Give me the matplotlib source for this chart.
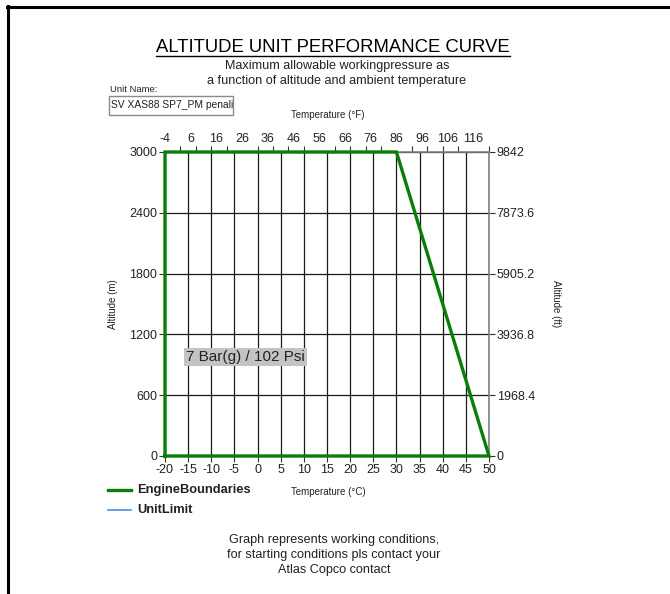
import matplotlib
matplotlib.use("Agg")
import matplotlib.pyplot as plt
from matplotlib.lines import Line2D
from matplotlib.patches import Rectangle
import numpy as np

plt.rcParams['font.family'] = ['Liberation Sans', 'DejaVu Sans']
plt.rcParams['axes.unicode_minus'] = False

# Engine boundary envelope (temperature in degC, altitude in m)
boundary_temp_c = [-20, -20, 30, 50, -20]
boundary_alt_m = [0, 3000, 3000, 0, 0]

temp_ticks_c = [-20, -15, -10, -5, 0, 5, 10, 15, 20, 25, 30, 35, 40, 45, 50]
alt_ticks_m = [0, 600, 1200, 1800, 2400, 3000]
temp_ticks_f = [-4, 6, 16, 26, 36, 46, 56, 66, 76, 86, 96, 106, 116]
alt_ticks_ft = [0, 1968.4, 3936.8, 5905.2, 7873.6, 9842]
alt_tick_labels_ft = ["0", "1968.4", "3936.8", "5905.2", "7873.6", "9842"]

unit_name = "SV XAS88 SP7_PM penali"
pressure_label = "7 Bar(g) / 102 Psi"

W, H = 670, 594
fig = plt.figure(figsize=(W / 100, H / 100), dpi=100)
fig.patch.set_facecolor("white")

def fx(px):
    return px / W

def fy(py):
    return 1 - py / H

TXT = "#222222"
TICK_FS = 9

# page frame (top and left edges)
fig.add_artist(Line2D([fx(7), fx(670)], [fy(7), fy(7)], color="black", lw=2.2))
fig.add_artist(Line2D([fx(7.5), fx(7.5)], [fy(6), fy(594)], color="black", lw=2.2))

ax = fig.add_axes([fx(165), fy(456), fx(489) - fx(165), fy(152) - fy(456)])
ax.set_xlim(-20, 50)
ax.set_ylim(0, 3000)

ax.set_xticks(temp_ticks_c)
ax.set_yticks(alt_ticks_m)
ax.grid(True, color="#1a1a1a", lw=0.9)
ax.set_axisbelow(True)
for s in ax.spines.values():
    s.set_color("#808080")
    s.set_linewidth(1.2)
ax.tick_params(axis="both", direction="out", length=4, width=0.8, color="#333333",
               labelsize=TICK_FS, pad=1.5, labelcolor=TXT)

ax.plot(boundary_temp_c, boundary_alt_m, color="#0a7d0a", lw=2.4,
        solid_joinstyle="miter", clip_on=False, zorder=5)

# secondary axes: Fahrenheit on top, feet on the right
c2f = lambda c: c * 9 / 5 + 32
f2c = lambda f: (f - 32) * 5 / 9
m2ft = lambda m: m * 9842 / 3000
ft2m = lambda ft: ft * 3000 / 9842

top = ax.secondary_xaxis("top", functions=(c2f, f2c))
top.set_xticks(temp_ticks_f)
top.set_xticks(np.arange(-4, 123, 6), minor=True)
top.tick_params(axis="x", which="major", length=0, labelsize=TICK_FS, pad=5, labelcolor=TXT)
top.tick_params(axis="x", which="minor", length=4, width=0.8, color="#333333")
top.spines["top"].set_visible(False)

right = ax.secondary_yaxis("right", functions=(m2ft, ft2m))
right.set_yticks(alt_ticks_ft)
right.set_yticklabels(alt_tick_labels_ft)
right.tick_params(axis="y", direction="out", length=4, width=0.8, color="#333333",
                  labelsize=TICK_FS, pad=1.5, labelcolor=TXT)
right.spines["right"].set_visible(False)

# axis titles
fig.text(fx(328), fy(115), "Temperature (°F)", ha="center", va="center", fontsize=7, color=TXT)
fig.text(fx(328), fy(492), "Temperature (°C)", ha="center", va="center", fontsize=7, color=TXT)
fig.text(fx(113), fy(304), "Altitude (m)", ha="center", va="center", rotation=90, fontsize=7, color=TXT)
fig.text(fx(556), fy(304), "Altitude (ft)", ha="center", va="center", rotation=270, fontsize=7, color=TXT)

# pressure rating label
ax.text(-15.4, 977, pressure_label, ha="left", va="center", fontsize=11, color=TXT,
        bbox=dict(boxstyle="square,pad=0.15", facecolor="#c3c3c3", edgecolor="none"), zorder=6)

# title block
title = fig.text(fx(333), fy(47), "ALTITUDE UNIT PERFORMANCE CURVE", ha="center", va="center",
                 fontsize=13.3, color="black")
fig.text(fx(337), fy(66), "Maximum allowable workingpressure as", ha="center", va="center",
         fontsize=9.1, color=TXT)
fig.text(fx(337), fy(81), "a function of altitude and ambient temperature", ha="center", va="center",
         fontsize=9.1, color=TXT)

# unit name field
fig.text(fx(110), fy(89), "Unit Name:", ha="left", va="center", fontsize=6.8, color=TXT)
fig.add_artist(Rectangle((fx(109), fy(115)), fx(233) - fx(109), fy(96) - fy(115),
                         transform=fig.transFigure, facecolor="white", edgecolor="#8a8a8a", lw=1.0))
fig.text(fx(111), fy(105.5), unit_name, ha="left", va="center", fontsize=7.4, color=TXT)

# legend
fig.add_artist(Line2D([fx(108), fx(131)], [fy(490), fy(490)], color="#0a7d0a", lw=2.4))
fig.text(fx(137), fy(490), "EngineBoundaries", ha="left", va="center", fontsize=9.3,
         fontweight="bold", color=TXT)
fig.add_artist(Line2D([fx(108), fx(131)], [fy(510), fy(510)], color="#4a90e2", lw=1.2))
fig.text(fx(137), fy(510), "UnitLimit", ha="left", va="center", fontsize=9.3,
         fontweight="bold", color=TXT)

# footer note
for i, line in enumerate(["Graph represents working conditions,",
                          "for starting conditions pls contact your",
                          "Atlas Copco contact"]):
    fig.text(fx(334), fy(540 + 15 * i), line, ha="center", va="center", fontsize=9.1, color=TXT)

# underline the title
fig.canvas.draw()
bb = title.get_window_extent(fig.canvas.get_renderer()).transformed(fig.transFigure.inverted())
fig.add_artist(Line2D([bb.x0, bb.x1], [fy(56), fy(56)], color="black", lw=1.0))

fig.savefig("out.png", dpi=100, facecolor="white")
